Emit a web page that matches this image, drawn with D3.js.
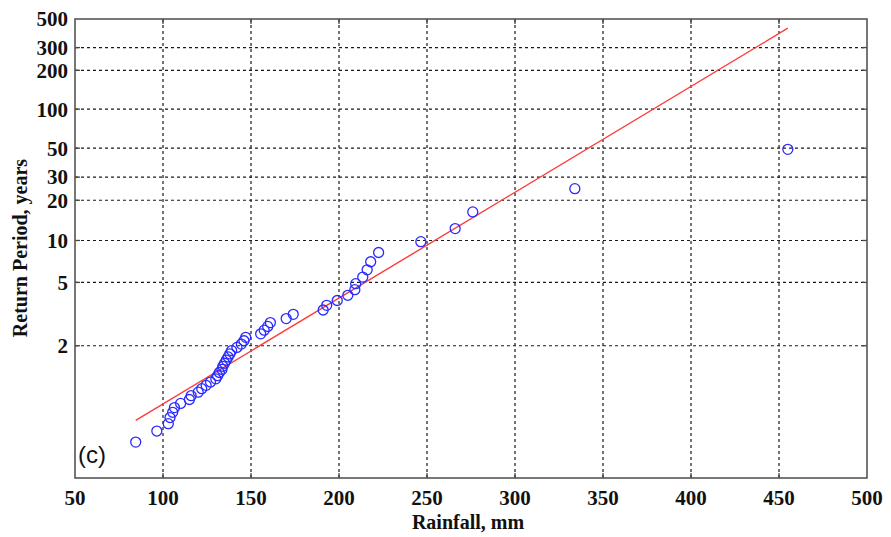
<!DOCTYPE html>
<html>
<head>
<meta charset="utf-8">
<script src="https://cdn.jsdelivr.net/npm/d3@7"></script>
<style>
  html, body { margin: 0; padding: 0; background: #fff; }
  svg { display: block; }
</style>
</head>
<body>
<svg id="chart" width="891" height="537"></svg>
<script>
// Annual maximum rainfall (mm), ranked from largest to smallest
const rainfall = [
  455, 334, 276, 266, 246.5, 222.5, 218, 216, 213.5, 209.5,
  209, 205, 199, 193, 191, 174, 170, 161, 159.5, 157.5,
  155.5, 147, 146, 144.5, 142, 139, 138, 137, 136, 135,
  134, 133.5, 132, 131, 130, 127, 124.5, 122, 120, 116,
  115, 110, 106.5, 105.5, 104, 103, 96.5, 84.5
];

// Weibull plotting-position return periods (years) for each rank
const returnPeriod = [
  49.000, 24.500, 16.333, 12.250, 9.800, 8.167, 7.000, 6.125, 5.444, 4.900,
  4.455, 4.083, 3.769, 3.500, 3.267, 3.063, 2.882, 2.722, 2.579, 2.450,
  2.333, 2.227, 2.130, 2.042, 1.960, 1.885, 1.815, 1.750, 1.690, 1.633,
  1.581, 1.531, 1.485, 1.441, 1.400, 1.361, 1.324, 1.289, 1.256, 1.225,
  1.195, 1.167, 1.140, 1.114, 1.089, 1.065, 1.043, 1.021
];

// Fitted Gumbel (EV1) parameters: location and scale, mm
const fitLocation = 135.6;
const fitScale = 52.8;

const xTicks = [50, 100, 150, 200, 250, 300, 350, 400, 450, 500];
const yTicks = [2, 5, 10, 20, 30, 50, 100, 200, 300, 500];

const margin = { left: 75, top: 19, right: 867, bottom: 478 };
const svg = d3.select("#chart");

// Gumbel reduced variate of a return period
const reduced = T => -Math.log(-Math.log(1 - 1 / T));

const x = d3.scaleLinear().domain([50, 500]).range([margin.left, margin.right]);
const yLin = d3.scaleLinear().domain([-2.0, reduced(500)]).range([margin.bottom, margin.top]);
const y = T => yLin(reduced(T));

const serif = "'Liberation Serif', 'Times New Roman', serif";

// Grid
const grid = svg.append("g").attr("stroke", "#1a1a1a").attr("stroke-width", 1.2)
  .attr("stroke-dasharray", "3,3");
grid.selectAll("line.v").data(xTicks.slice(1, -1)).join("line")
  .attr("x1", d => x(d)).attr("x2", d => x(d))
  .attr("y1", margin.top).attr("y2", margin.bottom);
grid.selectAll("line.h").data(yTicks.slice(0, -1)).join("line")
  .attr("x1", margin.left).attr("x2", margin.right)
  .attr("y1", d => y(d)).attr("y2", d => y(d));

// Inward tick marks on all four sides
const tickLen = 5;
const ticks = svg.append("g").attr("stroke", "#444").attr("stroke-width", 1.3);
xTicks.slice(1, -1).forEach(d => {
  ticks.append("line").attr("x1", x(d)).attr("x2", x(d)).attr("y1", margin.bottom).attr("y2", margin.bottom - tickLen);
  ticks.append("line").attr("x1", x(d)).attr("x2", x(d)).attr("y1", margin.top).attr("y2", margin.top + tickLen);
});
yTicks.slice(0, -1).forEach(d => {
  ticks.append("line").attr("x1", margin.left).attr("x2", margin.left + tickLen).attr("y1", y(d)).attr("y2", y(d));
  ticks.append("line").attr("x1", margin.right).attr("x2", margin.right - tickLen).attr("y1", y(d)).attr("y2", y(d));
});

// Frame
svg.append("rect")
  .attr("x", margin.left).attr("y", margin.top)
  .attr("width", margin.right - margin.left).attr("height", margin.bottom - margin.top)
  .attr("fill", "none").attr("stroke", "#555").attr("stroke-width", 1.6);

// Tick labels
svg.append("g").selectAll("text").data(xTicks).join("text")
  .attr("x", d => x(d)).attr("y", margin.bottom + 27)
  .attr("text-anchor", "middle")
  .attr("font-family", serif).attr("font-weight", "bold").attr("font-size", 21)
  .attr("fill", "#111")
  .text(d => d);

svg.append("g").selectAll("text").data(yTicks).join("text")
  .attr("x", margin.left - 7).attr("y", d => y(d))
  .attr("dy", "0.35em")
  .attr("text-anchor", "end")
  .attr("font-family", serif).attr("font-weight", "bold").attr("font-size", 21)
  .attr("fill", "#111")
  .text(d => d);

// Axis titles
svg.append("text")
  .attr("x", 468).attr("y", 529)
  .attr("text-anchor", "middle")
  .attr("font-family", serif).attr("font-weight", "bold").attr("font-size", 20)
  .attr("fill", "#111")
  .text("Rainfall, mm");

svg.append("text")
  .attr("transform", "translate(27,248) rotate(-90)")
  .attr("text-anchor", "middle")
  .attr("font-family", serif).attr("font-weight", "bold").attr("font-size", 20)
  .attr("fill", "#111")
  .text("Return Period, years");

// Fitted Gumbel line over the range of the observations
const xr = d3.extent(rainfall);
const fitLine = xr.map(v => [x(v), yLin((v - fitLocation) / fitScale)]);
svg.append("path")
  .attr("d", d3.line()(fitLine))
  .attr("fill", "none").attr("stroke", "#ff3b3b").attr("stroke-width", 1.4);

// Observations
svg.append("g").selectAll("circle").data(rainfall).join("circle")
  .attr("cx", d => x(d))
  .attr("cy", (d, i) => y(returnPeriod[i]))
  .attr("r", 5)
  .attr("fill", "none").attr("stroke", "#2a2aff").attr("stroke-width", 1.3);

// Panel tag
svg.append("text")
  .attr("x", 78).attr("y", 463)
  .attr("font-family", "'Liberation Sans', Arial, sans-serif").attr("font-size", 24)
  .attr("fill", "#111")
  .text("(c)");
</script>
</body>
</html>
